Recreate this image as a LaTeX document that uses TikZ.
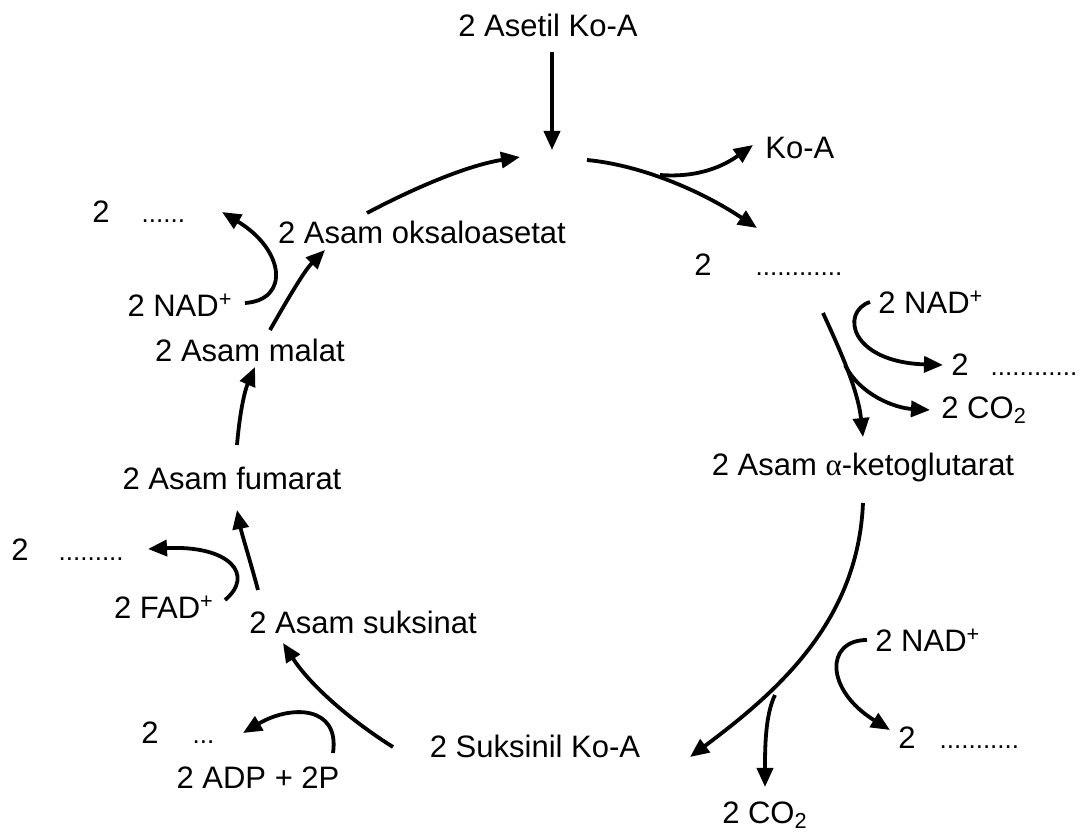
\documentclass[tikz,border=0pt]{standalone}
\usepackage{fontspec}
\setmainfont{Liberation Sans}
\newfontfamily\greekfont{Liberation Serif}
\usetikzlibrary{arrows.meta}

\tikzset{
  lbl/.style={font=\fontsize{15.5}{18}\selectfont, inner sep=0pt},
  arr/.style={line width=1.9pt, -{Triangle[length=9.5pt,width=8pt]}},
}
\newcommand{\dotrow}[1]{{\fontsize{13}{15}\selectfont #1}}

\begin{document}
\begin{tikzpicture}[x=0.5pt, y=-0.5pt]
            \useasboundingbox (0,0) rectangle (1084,834);

            \node[lbl] (acetil) at (548,25) {2 Asetil Ko-A};
            \node[lbl, anchor=west] (koa) at (765,148) {Ko-A};
            \node[lbl, anchor=west] (outA) at (694,265) {2\hspace{22pt}\dotrow{............}};
            \node[lbl, anchor=west] (nadA) at (878,302) {2 NAD\textsuperscript{+}};
            \node[lbl, anchor=west] (outB) at (951,365) {2\hspace{11pt}\dotrow{............}};
            \node[lbl, anchor=west] (coA) at (941,410) {2 CO\textsubscript{2}};
            \node[lbl] (keto) at (863,467) {2 Asam {\greekfont α}-ketoglutarat};
            \node[lbl, anchor=west] (nadB) at (875,640) {2 NAD\textsuperscript{+}};
            \node[lbl, anchor=west] (outC) at (898,738) {2\hspace{12pt}\dotrow{...........}};
            \node[lbl] (coB) at (765,815) {2 CO\textsubscript{2}};
            \node[lbl] (suksinil) at (535,746) {2 Suksinil Ko-A};
            \node[lbl] (adp) at (258,778) {2 ADP + 2P};
            \node[lbl, anchor=west] (outD) at (141,733) {2\hspace{17pt}\dotrow{...}};
            \node[lbl, anchor=west] (suksinat) at (249,622) {2 Asam suksinat};
            \node[lbl] (fad) at (164,607) {2 FAD\textsuperscript{+}};
            \node[lbl, anchor=west] (outE) at (11,550) {2\hspace{15pt}\dotrow{.........}};
            \node[lbl] (fumarat) at (232,478) {2 Asam fumarat};
            \node[lbl] (malat) at (250,350) {2 Asam malat};
            \node[lbl] (nadC) at (180,305) {2 NAD\textsuperscript{+}};
            \node[lbl, anchor=west] (outF) at (92,212) {2\hspace{16pt}\dotrow{......}};
            \node[lbl] (oksalo) at (422,232) {2 Asam oksaloasetat};

            % ujung-ujung panah
            \coordinate (a1) at (552,52);   \coordinate (a2) at (552,150);
            \coordinate (b1) at (367,213);  \coordinate (b2) at (520,157);
            \coordinate (c1) at (587,160);  \coordinate (c2) at (757,228);
            \coordinate (cj) at (660,175);  \coordinate (c3) at (753,145);
            \coordinate (d1) at (823,313);  \coordinate (d2) at (863,437);
            \coordinate (dj) at (845,365);  \coordinate (d3) at (930,410);
            \coordinate (e1) at (870,302);  \coordinate (e2) at (943,365);
            \coordinate (f1) at (863,503);  \coordinate (f2) at (690,757);
            \coordinate (fj) at (775,695);  \coordinate (f3) at (765,787);
            \coordinate (g1) at (867,640);  \coordinate (g2) at (890,730);
            \coordinate (h1) at (393,747);  \coordinate (h2) at (283,643);
            \coordinate (i1) at (333,753);  \coordinate (i2) at (243,733);
            \coordinate (j1) at (258,590);  \coordinate (j2) at (237,510);
            \coordinate (k1) at (225,600);  \coordinate (k2) at (148,549);
            \coordinate (l1) at (237,445);  \coordinate (l2) at (255,367);
            \coordinate (m1) at (270,330);  \coordinate (m2) at (325,250);
            \coordinate (n1) at (245,303);  \coordinate (n2) at (222,212);

            \draw[arr] (a1) -- (a2);
            \draw[arr] (b1) .. controls (420,185) and (470,165) .. (b2);
            \draw[arr] (c1) .. controls (640,165) and (700,190) .. (c2);
            \draw[arr] (cj) .. controls (700,178) and (725,165) .. (c3);
            \draw[arr] (d1) .. controls (840,350) and (858,390) .. (d2);
            \draw[arr] (dj) .. controls (860,395) and (895,408) .. (d3);
            \draw[arr] (e1) .. controls (840,312) and (850,362) .. (e2);
            \draw[arr] (f1) .. controls (858,620) and (780,690) .. (f2);
            \draw[arr] (fj) .. controls (765,715) and (765,750) .. (f3);
            \draw[arr] (g1) .. controls (825,640) and (825,690) .. (g2);
            \draw[arr] (h1) .. controls (350,720) and (310,685) .. (h2);
            \draw[arr] (i1) .. controls (340,705) and (290,705) .. (i2);
            \draw[arr] (j1) .. controls (250,560) and (242,535) .. (j2);
            \draw[arr] (k1) .. controls (255,575) and (230,545) .. (k2);
            \draw[arr] (l1) .. controls (240,410) and (245,390) .. (l2);
            \draw[arr] (m1) .. controls (290,295) and (305,270) .. (m2);
            \draw[arr] (n1) .. controls (290,300) and (285,250) .. (n2);
        \end{tikzpicture}
\end{document}
